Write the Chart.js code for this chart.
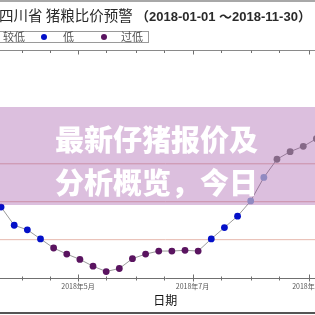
<!DOCTYPE html>
<html><head><meta charset="utf-8">
<script src="https://cdn.jsdelivr.net/npm/chart.js@4/dist/chart.umd.min.js"></script>
<style>
html,body{margin:0;padding:0;background:#fff;}
#wrap{position:relative;width:315px;height:315px;overflow:hidden;background:#fff;}
#c{position:absolute;left:-170px;top:0;}
#topline{position:absolute;left:0;top:0;width:315px;height:2px;background:#a8a8a8;}
#botline{position:absolute;left:0;top:312px;width:315px;height:2px;background:#555;}
#title{position:absolute;left:-1px;top:5px;white-space:nowrap;line-height:20px;color:#2a2a2a;}
#title .cn{font-family:"Noto Sans CJK SC",sans-serif;font-size:14.5px;}
#title .dt{font-family:"Liberation Sans","Noto Sans CJK SC",sans-serif;font-size:13px;font-weight:bold;}
#legend{position:absolute;left:-60px;top:31px;width:207px;height:10px;border:1px solid #9a9a9a;}
.lg{position:absolute;top:-3px;font-family:"Noto Sans CJK SC",sans-serif;font-size:11px;line-height:15px;color:#555;white-space:nowrap;}
.dot{position:absolute;top:2px;width:6px;height:6px;border-radius:50%;}
#banner{position:absolute;left:0;top:107px;width:315px;height:98px;background:rgba(150,60,155,0.33);}
#banner div{position:absolute;left:0;width:313px;text-align:center;color:#fff;font-family:"Noto Sans CJK SC",sans-serif;font-weight:900;font-size:29px;line-height:34px;white-space:nowrap;}
</style></head>
<body>
<div id="wrap">
  <canvas id="c" width="680" height="315"></canvas>
  <div id="topline"></div>
  <div id="title"><span class="cn">四川省 猪粮比价预警 </span><span class="dt">（2018-01-01 ～2018-11-30）</span></div>
  <div id="legend"></div>
  <div id="banner"><div id="b1" style="top:14px">最新仔猪报价及</div><div id="b2" style="top:57px">分析概览，今日</div></div>
  <div id="botline"></div>
</div>
<script>
// ---- data ----
const weekDates = ['2018-03-21','2018-03-28','2018-04-04','2018-04-11','2018-04-18','2018-04-25',
  '2018-05-02','2018-05-09','2018-05-16','2018-05-23','2018-05-30','2018-06-06','2018-06-13',
  '2018-06-20','2018-06-27','2018-07-04','2018-07-11','2018-07-18','2018-07-25','2018-08-01',
  '2018-08-08','2018-08-15','2018-08-22','2018-08-29','2018-09-05'];
const ratioValues = [5.43,5.19,5.13,5.01,4.89,4.81,4.74,4.65,4.58,4.62,4.75,4.81,4.85,
  4.85,4.86,4.85,5.01,5.16,5.31,5.51,5.82,6.06,6.16,6.23,6.33];
const warnLevels = [6.0, 5.5, 5.0];
const levelNames = ['正常','较低','低','过低'];
const levelColors = ['#7f7f7f','#8fb0d4','#0410c8','#5a1460'];
const rangeStart = '2018-01-01', rangeEnd = '2018-11-30';
const yMin = 4.5, yMax = 7.5;
const tickDates = ['2018-01-01','2018-01-16','2018-02-01','2018-02-16','2018-03-01','2018-03-16',
  '2018-04-01','2018-04-16','2018-05-01','2018-05-16','2018-06-01','2018-06-16','2018-07-01',
  '2018-07-16','2018-08-01','2018-08-16','2018-09-01','2018-09-16','2018-10-01','2018-10-16',
  '2018-11-01','2018-11-16'];
const labelDates = ['2018-01-01','2018-03-01','2018-05-01','2018-07-01','2018-09-01','2018-11-01'];
const labelTexts = ['2018年1月','2018年3月','2018年5月','2018年7月','2018年9月','2018年11月'];
const xTitle = '日期';

// ---- helpers ----
const doy = s => { const [y,m,d] = s.split('-').map(Number); return (Date.UTC(y,m-1,d) - Date.UTC(2018,0,1)) / 864e5; };
const labelMap = {}; labelDates.forEach((d,i) => labelMap[doy(d)] = labelTexts[i]);
function levelIndex(v){ if (v >= warnLevels[0]) return 0; if (v >= warnLevels[1]) return 1; if (v >= warnLevels[2]) return 2; return 3; }

// legend (partially visible, like the reference crop)
const lg = document.getElementById('legend');
const items = [{lvl:1, dot:-11, txt:2},{lvl:2, dot:40, txt:62},{lvl:3, dot:100, txt:120}];
items.forEach(it => {
  const d = document.createElement('div'); d.className='dot'; d.style.left=(it.dot+60)+'px'; d.style.background=levelColors[it.lvl]; lg.appendChild(d);
  const t = document.createElement('div'); t.className='lg'; t.style.left=(it.txt+60)+'px'; t.textContent=levelNames[it.lvl]; lg.appendChild(t);
});

const points = weekDates.map((d,i) => ({x: doy(d), y: ratioValues[i]}));

const axisFrame = {
  id: 'axisFrame',
  afterDatasetsDraw(chart){
    const {ctx, chartArea:a, scales:{x}} = chart;
    ctx.save();
    ctx.strokeStyle = '#8a8a8a'; ctx.lineWidth = 1;
    const ln = (x1,y1,x2,y2) => { ctx.beginPath(); ctx.moveTo(x1,y1); ctx.lineTo(x2,y2); ctx.stroke(); };
    const top = Math.round(a.top)+0.5, bot = Math.round(a.bottom)+0.5;
    ln(a.left, top, a.right, top);
    ln(a.left, a.top, a.left, a.bottom);
    ln(a.right, a.top, a.right, a.bottom);
    ctx.strokeStyle = '#707070';
    ln(a.left, bot, a.right, bot);
    x.ticks.forEach(t => {
      const px = Math.round(x.getPixelForValue(t.value)) + 0.5;
      const major = labelMap[t.value] !== undefined;
      ln(px, top, px, top + (major ? 4 : 2.5));
      ln(px, bot - (major ? 4 : 2), px, bot + (major ? 3 : 2));
    });
    ctx.restore();
  }
};

Chart.defaults.font.family = '"Noto Sans CJK SC", sans-serif';
new Chart(document.getElementById('c'), {
  type: 'line',
  data: {
    datasets: [
      ...warnLevels.map(v => ({
        data: [{x: doy(rangeStart), y: v}, {x: doy(rangeEnd), y: v}],
        borderColor: '#e6b8ae', borderWidth: 1, pointRadius: 0, order: 2
      })),
      {
        data: points, borderColor: '#9a9a9a', borderWidth: 1, order: 1,
        pointRadius: 3.4, pointBorderWidth: 0,
        pointBackgroundColor: c => levelColors[levelIndex(c.raw.y)],
        pointBorderColor: c => levelColors[levelIndex(c.raw.y)]
      }
    ]
  },
  options: {
    responsive: false, animation: false,
    layout: {padding: {left: 22.8, right: 32.2, top: 50, bottom: 9}},
    plugins: {legend: {display: false}, tooltip: {enabled: false}},
    scales: {
      x: {
        type: 'linear', min: doy(rangeStart), max: doy(rangeEnd),
        afterBuildTicks: s => { s.ticks = tickDates.map(d => ({value: doy(d)})); },
        grid: {display: false, drawTicks: false}, border: {display: false},
        ticks: {autoSkip: false, maxRotation: 0, padding: 5, color: '#555', font: {size: 7},
          callback: v => labelMap[v] || ''},
        title: {display: true, text: xTitle, color: '#111', font: {size: 12, lineHeight: 1}, padding: {top: -2, bottom: 0}}
      },
      y: {display: false, min: yMin, max: yMax}
    }
  },
  plugins: [axisFrame]
});
</script>
</body></html>
